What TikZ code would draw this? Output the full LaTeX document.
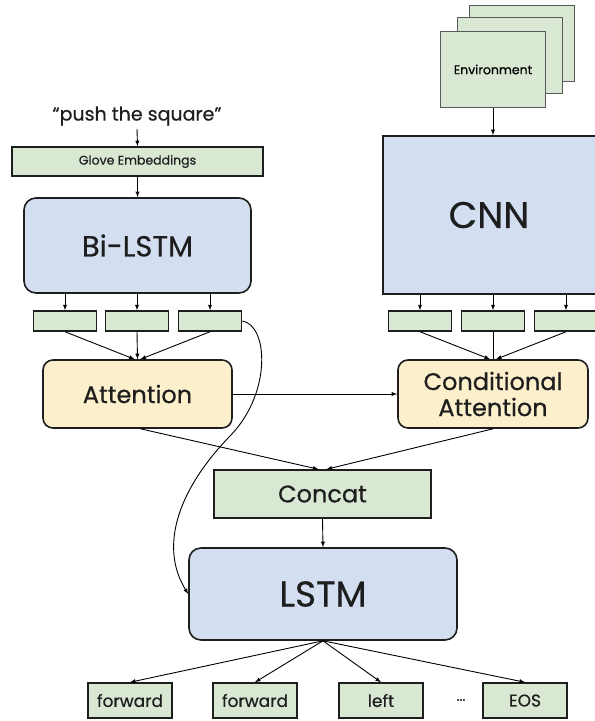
\documentclass[tikz,border=0pt]{standalone}
\usepackage{fontspec}
\setmainfont{Poppins}[BoldFont=Poppins, BoldFeatures={FakeBold=0.6}]
\usepackage{tikz}
\usetikzlibrary{shapes,arrows}
\usepackage{xcolor}

\definecolor{boxgreen}{HTML}{D9E8D3}
\definecolor{boxblue}{HTML}{D3DFF1}
\definecolor{boxyellow}{HTML}{FCF0CC}
\definecolor{inkgray}{HTML}{1E1E1E}

\tikzset{
  greenbox/.style={draw=inkgray, line width=1.5pt, fill=boxgreen, inner sep=0pt, text=inkgray},
  bluebox/.style={draw=inkgray, line width=1.6pt, fill=boxblue, inner sep=0pt, text=inkgray},
  yellowbox/.style={draw=inkgray, line width=1.6pt, fill=boxyellow, inner sep=0pt, rounded corners=10pt, text=inkgray, align=center},
  envbox/.style={draw=black!65, line width=0.9pt, fill=boxgreen, inner sep=0pt, minimum width=105pt, minimum height=76pt},
  featbox/.style={greenbox, minimum width=63pt, minimum height=20pt},
  outbox/.style={greenbox, minimum width=84pt, minimum height=35pt, font=\bfseries\fontsize{17}{17}\selectfont},
  link/.style={-latex, line width=0.9pt, black}
}

\begin{document}
\begin{tikzpicture}[x=1pt, y=-1pt]
     \useasboundingbox (0,0) rectangle (595,721);
     % environment stack and CNN
     \node [envbox] (env3) at (521.5,43) {};
     \node [envbox] (env2) at (509.5,55) {};
     \node [envbox, font=\bfseries\fontsize{12.5}{12.5}\selectfont] (env) at (493,69.5) {Environment};
     \node [bluebox, minimum width=216pt, minimum height=158pt, font=\bfseries\fontsize{37}{37}\selectfont] (cnn) at (491,215) {\hspace*{-2pt}CNN\hspace*{2pt}};
     \node [featbox] (f1) at (420,321) {};
     \node [featbox] (f2) at (493,321) {};
     \node [featbox] (f3) at (566,321) {};
     % instruction side
     \node [text=inkgray, font=\bfseries\fontsize{19}{19}\selectfont] (instr) at (137,116) {“push the square”};
     \node [greenbox, minimum width=251pt, minimum height=29pt, font=\bfseries\fontsize{12.5}{12.5}\selectfont] (glove) at (137.5,161.5) {Glove Embeddings};
     \node [bluebox, rounded corners=12pt, minimum width=227pt, minimum height=95pt, font=\bfseries\fontsize{29}{29}\selectfont] (bilstm) at (137.5,245.5) {Bi-LSTM};
     \node [featbox] (w1) at (65,321) {};
     \node [featbox] (w2) at (137,321) {};
     \node [featbox] (w3) at (210,321) {};
     % attention
     \node [yellowbox, minimum width=189pt, minimum height=68pt, font=\bfseries\fontsize{24}{24}\selectfont] (attn) at (137.5,394) {Attention};
     \node [yellowbox, minimum width=190pt, minimum height=68pt, font=\bfseries\fontsize{24}{26}\selectfont] (cattn) at (493,394) {Conditional\\Attention};
     \node [greenbox, minimum width=217pt, minimum height=48pt, font=\bfseries\fontsize{24}{24}\selectfont] (concat) at (322.5,494) {Concat};
     \node [bluebox, rounded corners=12pt, minimum width=268pt, minimum height=92pt, font=\bfseries\fontsize{36}{36}\selectfont] (lstm) at (323,594) {LSTM};
     % outputs
     \node [outbox] (o1) at (130,700.5) {forward};
     \node [outbox] (o2) at (255,700.5) {forward};
     \node [outbox] (o3) at (381,700.5) {left};
     \node [outbox] (o4) at (525,700.5) {EOS};
     \node [text=inkgray, font=\bfseries\fontsize{14}{14}\selectfont] (dots) at (461,700) {...};

     \draw [link] (env.south) -- (env.south |- cnn.north);
     \draw [link] (instr.south) -- (glove.north);
     \draw [link] (glove.south) -- (bilstm.north);
     \foreach \n in {w1,w2,w3} \draw [link] (bilstm.south -| \n.north) -- (\n.north);
     \foreach \n in {f1,f2,f3} \draw [link] (cnn.south -| \n.north) -- (\n.north);
     \draw [link] (w1.south) -- ([xshift=-3pt]attn.north);
     \draw [link] (w2.south) -- (attn.north);
     \draw [link] (w3.south) -- ([xshift=3pt]attn.north);
     \draw [link] (f1.south) -- ([xshift=-3pt]cattn.north);
     \draw [-, line width=0.5pt] (f2.south) -- (cattn.north);
     \draw [link] (f3.south) -- ([xshift=3pt]cattn.north);
     \draw [link] (attn.east) -- (cattn.west);
     \draw [link] ([xshift=3pt]attn.south) -- ([xshift=-4pt]concat.north);
     \draw [link] (cattn.south) -- ([xshift=4pt]concat.north);
     \draw [link] (concat.south) -- (lstm.north);
     \draw [link] (w3.east) .. controls (268,325) and (272,392) .. (231,435)
                            .. controls (180,487) and (158,545) .. (lstm.west);
     \foreach \n in {o1,o2,o3,o4} \draw [link] (lstm.south) -- (\n.north);
 \end{tikzpicture}
\end{document}
